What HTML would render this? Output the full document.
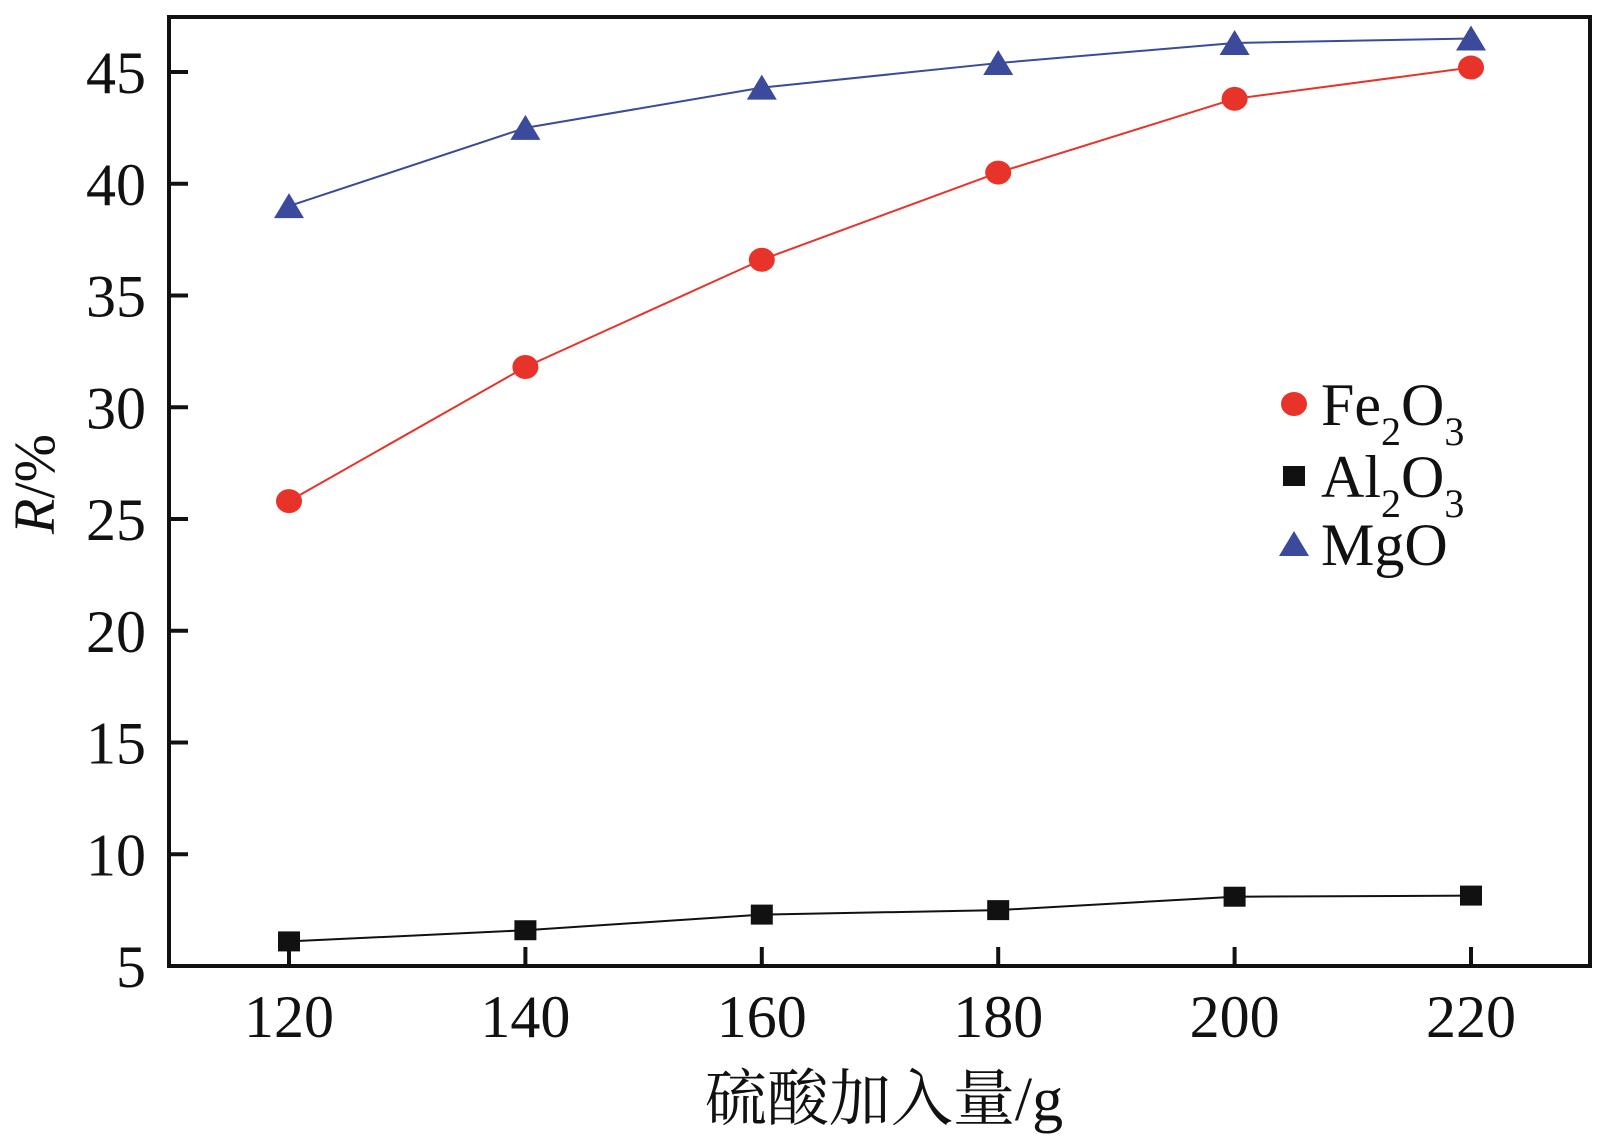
<!DOCTYPE html>
<html><head><meta charset="utf-8"><style>
html,body{margin:0;padding:0;background:#fff;}
svg{display:block;font-family:"Liberation Serif","Noto Serif CJK SC",serif;}
</style></head><body>
<svg id="chart" width="1606" height="1136" viewBox="0 0 1606 1136"></svg>
<script>
const categories=[120,140,160,180,200,220];
const fe2o3=[25.8,31.8,36.6,40.5,43.8,45.2];
const al2o3=[6.1,6.6,7.3,7.5,8.1,8.15];
const mgo=[39.0,42.5,44.3,45.4,46.3,46.5];
const yTicks=[5,10,15,20,25,30,35,40,45];
const xTicks=[120,140,160,180,200,220];

const NS="http://www.w3.org/2000/svg";
const svg=document.getElementById('chart');
const L=169,R=1590,T=17,B=966;
function xs(v){return 289+(v-120)*(1471-289)/100;}
function ys(v){return 966-(v-5)*(966-72)/40;}
function mk(tag,attrs,parent){const e=document.createElementNS(NS,tag);for(const k in attrs)e.setAttribute(k,attrs[k]);(parent||svg).appendChild(e);return e;}

const frame=mk('rect',{x:L,y:T,width:R-L,height:B-T,fill:'none',stroke:'#111','stroke-width':4});



yTicks.forEach(v=>{
  const t=mk('line',{x1:L,x2:L+19,y1:ys(v),y2:ys(v),stroke:'#111','stroke-width':4});
  
  
  const lb=mk('text',{x:146,y:ys(v)+21,'text-anchor':'end','font-size':60,fill:'#111'});
  lb.textContent=v;
  
  
});
xTicks.forEach(v=>{
  const t=mk('line',{x1:xs(v),x2:xs(v),y1:B,y2:B-19,stroke:'#111','stroke-width':4});
  
  
  const lb=mk('text',{x:xs(v),y:1037,'text-anchor':'middle','font-size':60,fill:'#111'});
  lb.textContent=v;
  
  
});
const xt=mk('text',{x:884,y:1120,'text-anchor':'middle','font-size':62,fill:'#111'});
xt.textContent='硫酸加入量/g';


const yt=mk('text',{x:0,y:0,'text-anchor':'middle','font-size':58,fill:'#111',transform:'translate(54,484) rotate(-90)'});
yt.innerHTML='<tspan font-style="italic">R</tspan>/%';



function marker(kind,cx,cy,color,g){
  let e;
  if(kind==='circle')e=mk('ellipse',{cx:cx,cy:cy,rx:13,ry:12,fill:color},g);
  else if(kind==='square')e=mk('rect',{x:cx-11,y:cy-10,width:22,height:20,fill:color},g);
  else e=mk('polygon',{points:`${cx-15},${cy+12} ${cx+15},${cy+12} ${cx},${cy-13}`,fill:color},g);
  return e;
}
function series(name,vals,color,kind){
  const g=mk('g',{});
  
  
  const pts=vals.map((v,i)=>xs(categories[i])+','+ys(v)).join(' ');
  const pl=mk('polyline',{points:pts,fill:'none',stroke:color,'stroke-width':2},g);
  
  
  vals.forEach((v,i)=>{
    const m=marker(kind,xs(categories[i]),ys(v),color,g);
    
    
  });
}
series('mgo',mgo,'#3b4a9a','tri');
series('fe2o3',fe2o3,'#e8332a','circle');
series('al2o3',al2o3,'#111','square');

const legend=[['fe2o3','circle','#e8332a','Fe<tspan font-size="40" dy="20">2</tspan><tspan dy="-20">O</tspan><tspan font-size="40" dy="20">3</tspan>',404],
['al2o3','square','#111','Al<tspan font-size="40" dy="20">2</tspan><tspan dy="-20">O</tspan><tspan font-size="40" dy="20">3</tspan>',476],
['mgo','tri','#3b4a9a','MgO',544]];
legend.forEach(l=>{
  const g=mk('g',{});
  
  
  marker(l[1],1294,l[4],l[2],g);
  const t=mk('text',{x:1321,y:l[4]+21,'font-size':60,fill:'#111'},g);
  t.innerHTML=l[3];
});
</script>
</body></html>
